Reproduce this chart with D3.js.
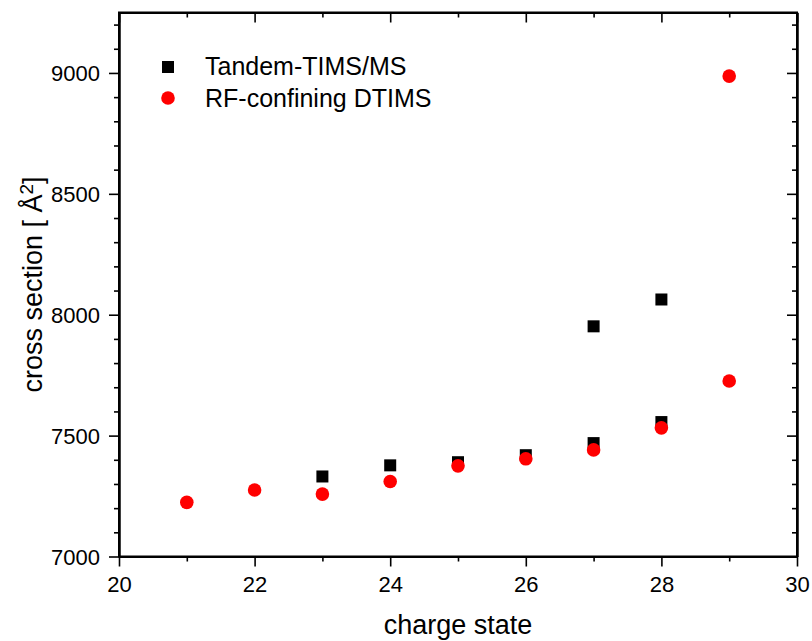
<!DOCTYPE html>
<html>
<head>
<meta charset="utf-8">
<script src="https://cdn.jsdelivr.net/npm/d3@7"></script>
<style>
  body { margin: 0; background: #fff; }
  text { font-family: Arial, "Liberation Sans", sans-serif; fill: #000; }
</style>
</head>
<body>
<svg id="chart"></svg>
<script>
// Tandem-TIMS/MS (black squares)
const tandemCharge = [23, 24, 25, 26, 27, 27, 28, 28];
const tandemCross = [7331, 7377, 7390, 7419, 7469, 7952, 7556, 8063];

// RF-confining DTIMS (red circles)
const rfCharge = [21, 22, 23, 24, 25, 26, 27, 28, 29, 29];
const rfCross = [7224, 7275, 7258, 7310, 7375, 7404, 7441, 7532, 7726, 8987];

const xTicks = [20, 22, 24, 26, 28, 30];
const yTicks = [7000, 7500, 8000, 8500, 9000];

const width = 812, height = 641;
const margin = { top: 12.5, right: 15, bottom: 84.5, left: 119 };

const svg = d3.select("#chart")
    .attr("width", width)
    .attr("height", height);

const x = d3.scaleLinear().domain([20, 30]).range([margin.left, width - margin.right]);
const y = d3.scaleLinear().domain([7000, 9250]).range([height - margin.bottom, margin.top]);

const xMinor = d3.range(21, 30, 2);
const yMinor = d3.range(7100, 9250, 100).filter(v => v % 500 !== 0);

// axes: outer ticks on bottom/left, inner ticks on top/right
const bottom = svg.append("g")
    .attr("transform", `translate(0,${y(7000)})`)
    .call(d3.axisBottom(x).tickValues(xTicks).tickSize(10).tickSizeOuter(0).tickPadding(6));
svg.append("g")
    .attr("transform", `translate(0,${y(7000)})`)
    .call(d3.axisBottom(x).tickValues(xMinor).tickSize(5).tickSizeOuter(0).tickFormat(""));

const left = svg.append("g")
    .attr("transform", `translate(${x(20)},0)`)
    .call(d3.axisLeft(y).tickValues(yTicks).tickFormat(d3.format("d")).tickSize(10).tickSizeOuter(0).tickPadding(9));
svg.append("g")
    .attr("transform", `translate(${x(20)},0)`)
    .call(d3.axisLeft(y).tickValues(yMinor).tickSize(5).tickSizeOuter(0).tickFormat(""));

svg.append("g")
    .attr("transform", `translate(0,${y(9250)})`)
    .call(d3.axisBottom(x).tickValues(xTicks).tickSize(10).tickSizeOuter(0).tickFormat(""));
svg.append("g")
    .attr("transform", `translate(0,${y(9250)})`)
    .call(d3.axisBottom(x).tickValues(xMinor).tickSize(5).tickSizeOuter(0).tickFormat(""));
svg.append("g")
    .attr("transform", `translate(${x(30)},0)`)
    .call(d3.axisLeft(y).tickValues(yTicks).tickSizeOuter(0).tickFormat(""))
    .selectAll(".tick line").attr("x2", -10);
svg.append("g")
    .attr("transform", `translate(${x(30)},0)`)
    .call(d3.axisLeft(y).tickValues(yMinor).tickSizeOuter(0).tickFormat(""))
    .selectAll(".tick line").attr("x2", -5);

svg.selectAll(".domain").attr("stroke", "#000").attr("stroke-width", 2);
svg.selectAll(".tick line").attr("stroke", "#000").attr("stroke-width", 1.6);
svg.selectAll(".tick text").style("font-size", "22px").attr("fill", "#000");
bottom.selectAll(".tick text").attr("dy", "0.9em");
left.selectAll(".tick text").attr("dy", "0.35em");

// frame
svg.append("rect")
    .attr("x", x(20)).attr("y", y(9250))
    .attr("width", x(30) - x(20)).attr("height", y(7000) - y(9250))
    .attr("fill", "none").attr("stroke", "#000").attr("stroke-width", 2);

// points
svg.append("g").selectAll("rect")
    .data(tandemCharge.map((c, i) => [c, tandemCross[i]]))
    .join("rect")
    .attr("x", d => x(d[0]) - 6)
    .attr("y", d => y(d[1]) - 6)
    .attr("width", 12).attr("height", 12)
    .attr("fill", "#000");

svg.append("g").selectAll("circle")
    .data(rfCharge.map((c, i) => [c, rfCross[i]]))
    .join("circle")
    .attr("cx", d => x(d[0]))
    .attr("cy", d => y(d[1]))
    .attr("r", 6.8)
    .attr("fill", "#ff0000");

// legend
const legend = svg.append("g");
legend.append("rect").attr("x", 162).attr("y", 61).attr("width", 12).attr("height", 12).attr("fill", "#000");
legend.append("text").attr("x", 205).attr("y", 75).style("font-size", "25px").text("Tandem-TIMS/MS");
legend.append("circle").attr("cx", 168).attr("cy", 98).attr("r", 6.8).attr("fill", "#ff0000");
legend.append("text").attr("x", 205).attr("y", 107).style("font-size", "25px").text("RF-confining DTIMS");

// axis titles
svg.append("text")
    .attr("x", (x(20) + x(30)) / 2)
    .attr("y", 634)
    .attr("text-anchor", "middle")
    .style("font-size", "27px")
    .text("charge state");

const yTitle = svg.append("text")
    .attr("transform", `translate(42,${(y(7000) + y(9250)) / 2}) rotate(-90)`)
    .attr("text-anchor", "middle")
    .style("font-size", "27px");
yTitle.append("tspan").text("cross section [ Å");
yTitle.append("tspan").attr("dy", "-0.5em").style("font-size", "19px").text("2");
yTitle.append("tspan").attr("dy", "0.35em").text("]");
</script>
</body>
</html>
